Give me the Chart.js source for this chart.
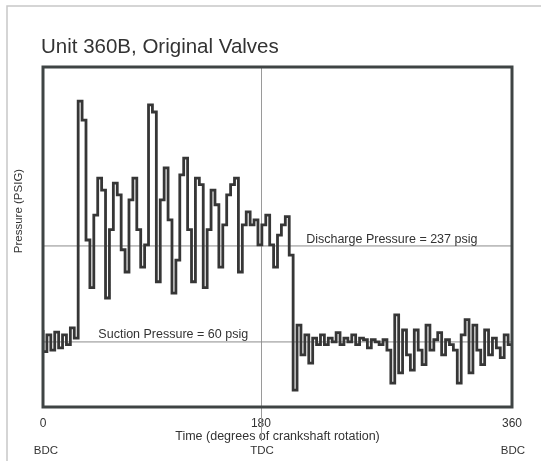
<!DOCTYPE html>
<html><head><meta charset="utf-8">
<script src="https://cdn.jsdelivr.net/npm/chart.js@4/dist/chart.umd.min.js"></script>
<style>html,body{margin:0;padding:0;background:#fff;}canvas{display:block;}</style>
</head><body>
<canvas id="c" width="541" height="461"></canvas>
<script>
const chartTitle = 'Unit 360B, Original Valves';
const yAxisTitle = 'Pressure (PSIG)';
const xAxisTitle = 'Time (degrees of crankshaft rotation)';
const tickPositions = [0, 167.3, 360];
const tickLabels = ['0', '180', '360'];
const strokeLabels = ['BDC', 'TDC', 'BDC'];
const dischargePressure = 237;
const suctionPressure = 60;
const dischargeLabel = 'Discharge Pressure = 237 psig';
const suctionLabel = 'Suction Pressure = 60 psig';

const sampleAngle = [
  0,3,6,9,12,15,18,21,24,27,30,33,36,39,42,45,48,51,54,57,
  60,63,66,69,72,75,78,81,84,87,90,93,96,99,102,105,108,111,114,117,
  120,123,126,129,132,135,138,141,144,147,150,153,156,159,162,165,168,171,174,177,
  180,183,186,189,192,195,198,201,204,207,210,213,216,219,222,225,228,231,234,237,
  240,243,246,249,252,255,258,261,264,267,270,273,276,279,282,285,288,291,294,297,
  300,303,306,309,312,315,318,321,324,327,330,333,336,339,342,345,348,351,354,357,360
];
const pressure = [
  82,42,73,45,78,49,73,55,86,67,504,469,248,160,294,362,340,141,267,353,
  331,230,189,322,362,267,198,239,497,484,171,322,381,285,150,211,368,399,267,171,
  362,350,160,267,340,313,198,276,331,350,362,189,276,300,276,285,239,276,294,239,
  198,257,276,291,220,-29,91,36,73,21,67,55,73,55,67,60,77,55,67,60,
  73,55,67,64,49,64,60,55,64,45,-16,110,3,82,36,8,82,45,18,91,
  45,64,77,36,64,55,45,-16,73,101,3,91,45,18,82,36,67,49,31,73,55
];

const FONT = '"Liberation Sans", Arial, Helvetica, sans-serif';
const TXT = '#333333';

const tracePoints = sampleAngle.map((a, i) => ({x: a, y: pressure[i]}));

const decor = {
  id: 'decor',
  beforeDatasetsDraw(chart) {
    const {ctx, chartArea: ca, scales: {x}} = chart;
    const tx = Math.round(x.getPixelForValue(tickPositions[1])) + 0.5;
    ctx.save();
    ctx.strokeStyle = '#9a9a9a';
    ctx.lineWidth = 1;
    ctx.beginPath();
    ctx.moveTo(tx, ca.top);
    ctx.lineTo(tx, ca.bottom + 34);
    ctx.stroke();
    ctx.restore();
  },
  afterDatasetsDraw(chart) {
    const {ctx, chartArea: ca, scales: {x, y}} = chart;
    ctx.save();
    // plot frame
    ctx.strokeStyle = '#3f4444';
    ctx.lineWidth = 3;
    ctx.strokeRect(ca.left, ca.top, ca.right - ca.left, ca.bottom - ca.top);
    // outer figure border (left and top edges)
    ctx.strokeStyle = '#c8c8c8';
    ctx.lineWidth = 1.5;
    ctx.beginPath();
    ctx.moveTo(7, 470); ctx.lineTo(7, 6); ctx.lineTo(541, 6);
    ctx.stroke();
    // title
    ctx.fillStyle = TXT;
    ctx.font = '20.5px ' + FONT;
    ctx.textAlign = 'left';
    ctx.textBaseline = 'alphabetic';
    ctx.fillText(chartTitle, 41, 53);
    // y title
    ctx.save();
    ctx.font = '11.5px ' + FONT;
    ctx.translate(19, 211);
    ctx.rotate(-Math.PI / 2);
    ctx.textAlign = 'center';
    ctx.textBaseline = 'middle';
    ctx.fillText(yAxisTitle, 0, 0);
    ctx.restore();
    // BDC / TDC
    ctx.font = '11.5px ' + FONT;
    ctx.textAlign = 'center';
    ctx.textBaseline = 'middle';
    tickPositions.forEach((v, i) => {
      ctx.fillText(strokeLabels[i], x.getPixelForValue(v) + (i === 0 ? 3 : 1), 451);
    });
    // annotations
    ctx.font = '12.5px ' + FONT;
    ctx.textAlign = 'left';
    ctx.textBaseline = 'bottom';
    ctx.fillText(dischargeLabel, x.getPixelForValue(202), y.getPixelForValue(dischargePressure) - 0.5);
    ctx.fillText(suctionLabel, x.getPixelForValue(42.5), y.getPixelForValue(suctionPressure) - 1);
    ctx.restore();
  }
};

new Chart(document.getElementById('c'), {
  type: 'line',
  data: {
    datasets: [
      {data: tracePoints, stepped: 'after', borderColor: '#363636', borderWidth: 2.8, pointRadius: 0, fill: false, order: 0},
      {data: [{x: sampleAngle[0], y: dischargePressure}, {x: sampleAngle[sampleAngle.length - 1], y: dischargePressure}], borderColor: '#8c8c8c', borderWidth: 1, pointRadius: 0, order: 1},
      {data: [{x: sampleAngle[0], y: suctionPressure}, {x: sampleAngle[sampleAngle.length - 1], y: suctionPressure}], borderColor: '#8c8c8c', borderWidth: 1, pointRadius: 0, order: 1}
    ]
  },
  options: {
    responsive: false,
    animation: false,
    devicePixelRatio: 1,
    layout: {padding: {left: 0, right: 29, top: 67, bottom: 0}},
    plugins: {legend: {display: false}, tooltip: {enabled: false}, title: {display: false}},
    scales: {
      x: {
        type: 'linear', min: 0, max: 360,
        grid: {display: false, drawTicks: false},
        border: {display: false},
        afterBuildTicks: s => { s.ticks = tickPositions.map(v => ({value: v})); },
        afterFit: s => { s.height = 54; },
        ticks: {
          autoSkip: false, maxRotation: 0, padding: 9,
          color: TXT, font: {family: FONT, size: 12},
          callback: (v, i) => tickLabels[i]
        },
        title: {display: true, text: xAxisTitle, color: TXT, font: {family: FONT, size: 12.5}, padding: {top: 0, bottom: 17}}
      },
      y: {
        type: 'linear', min: -60, max: 567,
        grid: {display: false, drawTicks: false},
        border: {display: false},
        ticks: {display: false},
        afterFit: s => { s.width = 43; }
      }
    }
  },
  plugins: [decor]
});
</script>
</body></html>
